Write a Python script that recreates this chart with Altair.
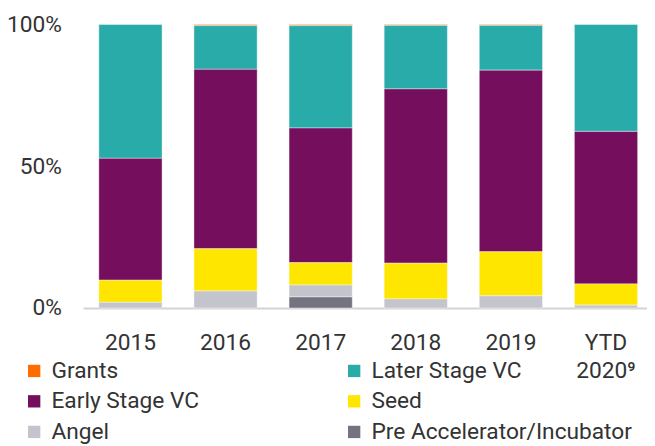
import altair as alt
import pandas as pd

years = ["2015", "2016", "2017", "2018", "2019", "YTD 2020⁹"]
series = ["Grants", "Later Stage VC", "Early Stage VC", "Seed", "Angel",
          "Pre Accelerator/Incubator"]
colors = ["#FF6D00", "#29ACA9", "#750E5C", "#FFE600", "#C4C4CD", "#747480"]

grants = [0.0, 0.4, 0.4, 0.3, 0.3, 0.0]
later_vc = [47.2, 15.4, 36.1, 22.4, 15.8, 37.7]
early_vc = [43.0, 63.3, 47.5, 61.5, 64.1, 53.8]
seed = [7.8, 14.9, 7.9, 12.6, 15.5, 7.5]
angel = [2.0, 6.0, 4.2, 3.2, 4.3, 1.0]
pre_acc = [0.0, 0.0, 3.9, 0.0, 0.0, 0.0]

values = [grants, later_vc, early_vc, seed, angel, pre_acc]

rows = []
for si, (s, vals) in enumerate(zip(series, values)):
    for y, v in zip(years, vals):
        if v > 0:
            rows.append({"year": y, "series": s, "value": v,
                         "order": len(series) - 1 - si})
df = pd.DataFrame(rows)

# legend fills column by column: reorder so it reads row by row like the reference
legend_order = [series[i] for i in (0, 2, 4, 1, 3, 5)]
legend_colors = [colors[i] for i in (0, 2, 4, 1, 3, 5)]

FONT = "Roboto, sans-serif"
TXT = "#333333"

chart = alt.Chart(df).mark_bar(
    stroke="white", strokeWidth=0.8, strokeOpacity=0.5
).encode(
    x=alt.X("year:N", sort=years, title=None,
            scale=alt.Scale(paddingInner=0.3354, paddingOuter=0.1323, align=0.627),
            axis=alt.Axis(labelAngle=0, labelExpr="split(datum.label, ' ')",
                          ticks=False, domainColor="#D4D4D4", domainWidth=2,
                          labelFontSize=23, labelLineHeight=28, labelPadding=24,
                          labelColor=TXT, labelFont=FONT, labelBaseline="top")),
    y=alt.Y("value:Q", stack="normalize", title=None,
            scale=alt.Scale(domain=[0, 1]),
            axis=alt.Axis(values=[0, 0.5, 1], format=".0%", grid=False,
                          domain=False, ticks=False, labelFontSize=23,
                          labelPadding=22, labelColor=TXT, labelFont=FONT)),
    color=alt.Color("series:N",
                    scale=alt.Scale(domain=legend_order, range=legend_colors),
                    legend=alt.Legend(title=None, orient="none", legendX=-61,
                                      legendY=339, columns=2, columnPadding=145,
                                      rowPadding=7, symbolType="square",
                                      symbolSize=156, symbolStrokeWidth=0,
                                      labelFontSize=23, labelOffset=6,
                                      labelColor=TXT, labelFont=FONT,
                                      labelLimit=400)),
    order=alt.Order("order:Q", sort="ascending"),
).properties(
    width=571, height=287,
    padding={"left": 76, "top": 14, "right": 0, "bottom": 137},
    autosize=alt.AutoSizeParams(type="none"),
).configure_view(stroke=None)

chart.save("out.html", embed_options={"renderer": "svg", "actions": False})
